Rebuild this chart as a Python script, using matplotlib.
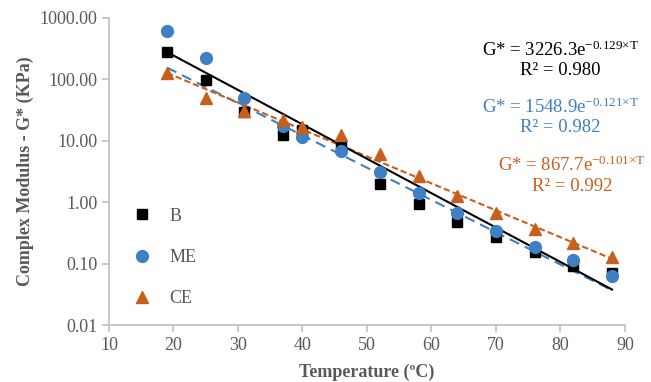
import numpy as np
import matplotlib
matplotlib.use("Agg")
import matplotlib.pyplot as plt

plt.rcParams['font.family'] = ['Liberation Serif', 'DejaVu Serif']
plt.rcParams['mathtext.fontset'] = 'custom'
plt.rcParams['mathtext.rm'] = 'Liberation Serif'
plt.rcParams['mathtext.default'] = 'regular'

temps = [19, 25, 31, 37, 40, 46, 52, 58, 64, 70, 76, 82, 88]
g_b = [280, 97, 29, 12.4, 15, 8.5, 2.0, 0.95, 0.48, 0.27, 0.155, 0.09, 0.07]
g_me = [615, 222, 49, 17.4, 11.5, 6.8, 3.1, 1.4, 0.66, 0.34, 0.19, 0.115, 0.064]
g_ce = [126, 50, 31, 22, 17, 12.5, 6.1, 2.7, 1.26, 0.66, 0.36, 0.22, 0.13]

# exponential trend lines as printed on the chart
fit_a = [3226.3, 1548.9, 867.7]
fit_b = [0.129, 0.121, 0.101]
fit_r2 = [0.980, 0.982, 0.992]

black = '#000000'
blue = '#3f7fc3'
orange = '#c85f1d'
gray = '#595959'

fig = plt.figure(figsize=(6.51, 3.82), dpi=100)
ax = fig.add_axes([0.1674, 0.149, 0.7926, 0.804])

t_line = np.linspace(min(temps), max(temps), 100)
ax.plot(t_line, fit_a[0] * np.exp(-fit_b[0] * t_line), color=black, lw=1.5, zorder=3)
ax.plot(t_line, fit_a[1] * np.exp(-fit_b[1] * t_line), color=blue, lw=1.5,
        dashes=(5, 3), zorder=2)
ax.plot(t_line, fit_a[2] * np.exp(-fit_b[2] * t_line), color=orange, lw=1.5,
        dashes=(3, 1.5), zorder=2)

ax.plot(temps, g_b, 's', color=black, ms=6.5, label='B', zorder=4)
ax.plot(temps, g_me, 'o', color=blue, ms=8.5, label='ME', zorder=4)
ax.plot(temps, g_ce, '^', color=orange, ms=8, label='CE', zorder=4)

ax.set_yscale('log')
ax.set_ylim(0.01, 1000)
ax.set_xlim(10, 90)
ax.set_xticks(range(10, 91, 10))
ax.set_yticks([0.01, 0.1, 1, 10, 100, 1000])
ax.set_yticklabels(['0.01', '0.10', '1.00', '10.00', '100.00', '1000.00'])
ax.minorticks_off()

for side in ['top', 'right']:
    ax.spines[side].set_visible(False)
for side in ['left', 'bottom']:
    ax.spines[side].set_color('#bfbfbf')
    ax.spines[side].set_linewidth(1.2)
ax.tick_params(colors='#bfbfbf', labelcolor=gray, labelsize=13, length=5, width=1.2)

ax.set_xlabel('Temperature (ºC)', fontsize=13, fontweight='bold', color=gray, labelpad=7)
ax.set_ylabel('Complex Modulus - G* (KPa)', fontsize=13, fontweight='bold', color=gray,
              labelpad=4)

leg = ax.legend(loc='lower left', bbox_to_anchor=(0.005, 0.005), frameon=False,
                fontsize=13, labelspacing=1.35, handletextpad=0.7, handlelength=1.6,
                labelcolor=gray)

eq_pos = [(0.875, 0.895, 0.828), (0.875, 0.71, 0.643), (0.897, 0.52, 0.451)]
for a, b, r2, c, (x, y1, y2) in zip(fit_a, fit_b, fit_r2, [black, blue, orange], eq_pos):
    ax.text(x, y1, 'G* = %.1fe$^{-%.3f×T}$' % (a, b), transform=ax.transAxes,
            ha='center', va='center', fontsize=13.5, color=c)
    ax.text(x, y2, 'R² = %.3f' % r2, transform=ax.transAxes,
            ha='center', va='center', fontsize=13.5, color=c)

plt.savefig('out.png', dpi=100)
